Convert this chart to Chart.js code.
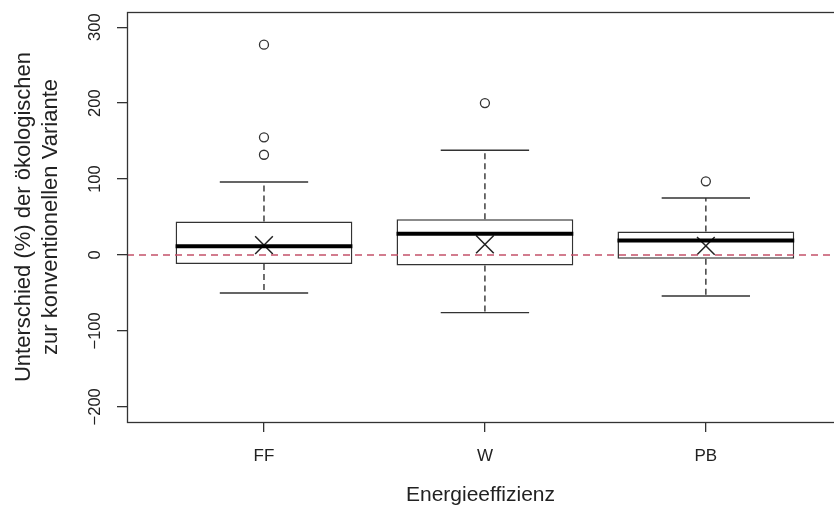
<!DOCTYPE html>
<html>
<head>
<meta charset="utf-8">
<script src="https://cdn.jsdelivr.net/npm/chart.js@4.4.0/dist/chart.umd.min.js"></script>
<style>
html, body { margin: 0; padding: 0; background: #fff; overflow: hidden; }
#wrap { width: 834px; height: 507px; }
</style>
</head>
<body>
<div id="wrap"><canvas id="box" width="834" height="507"></canvas></div>
<script>
/* global Chart */
// boxplot values
const groups = ['FF', 'W', 'PB'];
const lowWhisker = [-50, -76, -54];
const q1 = [-12, -14, -5];
const medians = [11.5, 28, 19];
const q3 = [44, 47, 31];
const highWhisker = [96, 138, 75];
const means = [13, 14, 12];
const outliers = [[277, 155, 132], [200], [97]];
const yTicks = [-200, -100, 0, 100, 200, 300];
const refValue = 0;
const yRange = [-220, 320];
const xRange = [0.38, 3.58];

const fontFam = "'Liberation Sans', Arial, Helvetica, sans-serif";
const ink = '#222';

const boxData = groups.map((g, i) => ({ x: i + 1, y: [q1[i], q3[i]] }));
const meanData = groups.map((g, i) => ({ x: i + 1, y: means[i] }));
const outlierData = [];
outliers.forEach((list, i) => {
    list.forEach(v => outlierData.push({ x: i + 1, y: v }));
});
const refData = [{ x: xRange[0], y: refValue }, { x: xRange[1], y: refValue }];

// whiskers, caps and medians, plus frame and rotated y labels
const boxExtras = {
    id: 'boxExtras',
    afterDatasetsDraw(chart) {
        const ctx = chart.ctx;
        const x = chart.scales.x;
        const y = chart.scales.y;
        ctx.save();
        groups.forEach((g, i) => {
            const c = x.getPixelForValue(i + 1);
            const capL = x.getPixelForValue(i + 1 - 0.2);
            const capR = x.getPixelForValue(i + 1 + 0.2);
            const boxL = x.getPixelForValue(i + 1 - 0.4);
            const boxR = x.getPixelForValue(i + 1 + 0.4);
            ctx.strokeStyle = '#333';
            ctx.lineWidth = 1.4;
            ctx.setLineDash([6, 4]);
            ctx.beginPath();
            ctx.moveTo(c, y.getPixelForValue(q3[i]));
            ctx.lineTo(c, y.getPixelForValue(highWhisker[i]));
            ctx.moveTo(c, y.getPixelForValue(q1[i]));
            ctx.lineTo(c, y.getPixelForValue(lowWhisker[i]));
            ctx.stroke();
            ctx.setLineDash([]);
            ctx.beginPath();
            ctx.moveTo(capL, y.getPixelForValue(highWhisker[i]));
            ctx.lineTo(capR, y.getPixelForValue(highWhisker[i]));
            ctx.moveTo(capL, y.getPixelForValue(lowWhisker[i]));
            ctx.lineTo(capR, y.getPixelForValue(lowWhisker[i]));
            ctx.stroke();
            ctx.strokeStyle = '#000';
            ctx.lineWidth = 4;
            ctx.beginPath();
            ctx.moveTo(boxL, y.getPixelForValue(medians[i]));
            ctx.lineTo(boxR, y.getPixelForValue(medians[i]));
            ctx.stroke();
        });
        ctx.restore();
    },
    afterDraw(chart) {
        const ctx = chart.ctx;
        const a = chart.chartArea;
        const y = chart.scales.y;
        ctx.save();
        ctx.strokeStyle = '#333';
        ctx.lineWidth = 1.3;
        ctx.strokeRect(a.left + 0.5, a.top + 0.5, a.right - a.left + 2, a.bottom - a.top);
        ctx.fillStyle = ink;
        ctx.font = '16.5px ' + fontFam;
        ctx.textAlign = 'center';
        ctx.textBaseline = 'middle';
        y.ticks.forEach(t => {
            const label = t.value < 0 ? '\u2212' + Math.abs(t.value) : String(t.value);
            ctx.save();
            ctx.translate(95, y.getPixelForValue(t.value));
            ctx.rotate(-Math.PI / 2);
            ctx.fillText(label, 0, 0);
            ctx.restore();
        });
        ctx.restore();
    }
};

new Chart(document.getElementById('box').getContext('2d'), {
    type: 'bar',
    data: {
        datasets: [{
            type: 'line',
            data: refData,
            borderColor: '#c4526a',
            borderWidth: 1.5,
            borderDash: [7, 5],
            pointRadius: 0,
            order: 0
        }, {
            type: 'scatter',
            data: meanData,
            pointStyle: 'crossRot',
            pointRadius: 12.5,
            pointBorderWidth: 1.5,
            pointBorderColor: ink,
            order: 1
        }, {
            type: 'scatter',
            data: outlierData,
            pointStyle: 'circle',
            pointRadius: 4.5,
            pointBorderWidth: 1.3,
            pointBorderColor: '#333',
            pointBackgroundColor: 'rgba(0,0,0,0)',
            order: 2
        }, {
            type: 'bar',
            data: boxData,
            backgroundColor: '#fff',
            borderColor: '#333',
            borderWidth: 1.5,
            borderSkipped: false,
            barPercentage: 0.8,
            categoryPercentage: 1,
            order: 3
        }]
    },
    options: {
        responsive: false,
        animation: false,
        layout: { autoPadding: false, padding: { top: 12, right: 0, left: 0, bottom: 0 } },
        plugins: {
            legend: { display: false },
            tooltip: { enabled: false }
        },
        scales: {
            x: {
                type: 'linear',
                offset: false,
                min: xRange[0],
                max: xRange[1],
                afterBuildTicks: s => { s.ticks = groups.map((g, i) => ({ value: i + 1 })); },
                afterFit: s => { s.height = 85; },
                ticks: {
                    callback: v => groups[v - 1],
                    font: { family: fontFam, size: 17 },
                    color: ink,
                    padding: 14.5,
                    maxRotation: 0,
                    autoSkip: false
                },
                grid: { offset: false, drawOnChartArea: false, tickLength: 10, color: '#333', lineWidth: 1.3 },
                border: { display: false },
                title: {
                    display: true,
                    text: 'Energieeffizienz',
                    font: { family: fontFam, size: 21, lineHeight: 1 },
                    color: ink,
                    padding: { top: 0, bottom: 1 }
                }
            },
            y: {
                min: yRange[0],
                max: yRange[1],
                afterBuildTicks: s => { s.ticks = yTicks.map(v => ({ value: v })); },
                afterFit: s => { s.width = 127; },
                ticks: { display: false },
                grid: { drawOnChartArea: false, tickLength: 10, color: '#333', lineWidth: 1.3 },
                border: { display: false },
                title: {
                    display: true,
                    text: ['Unterschied (%) der ökologischen', 'zur konventionellen Variante'],
                    font: { family: fontFam, size: 22, lineHeight: '27px' },
                    color: ink,
                    padding: { top: 10.5, bottom: 0 }
                }
            }
        }
    },
    plugins: [boxExtras]
});
</script>
</body>
</html>
